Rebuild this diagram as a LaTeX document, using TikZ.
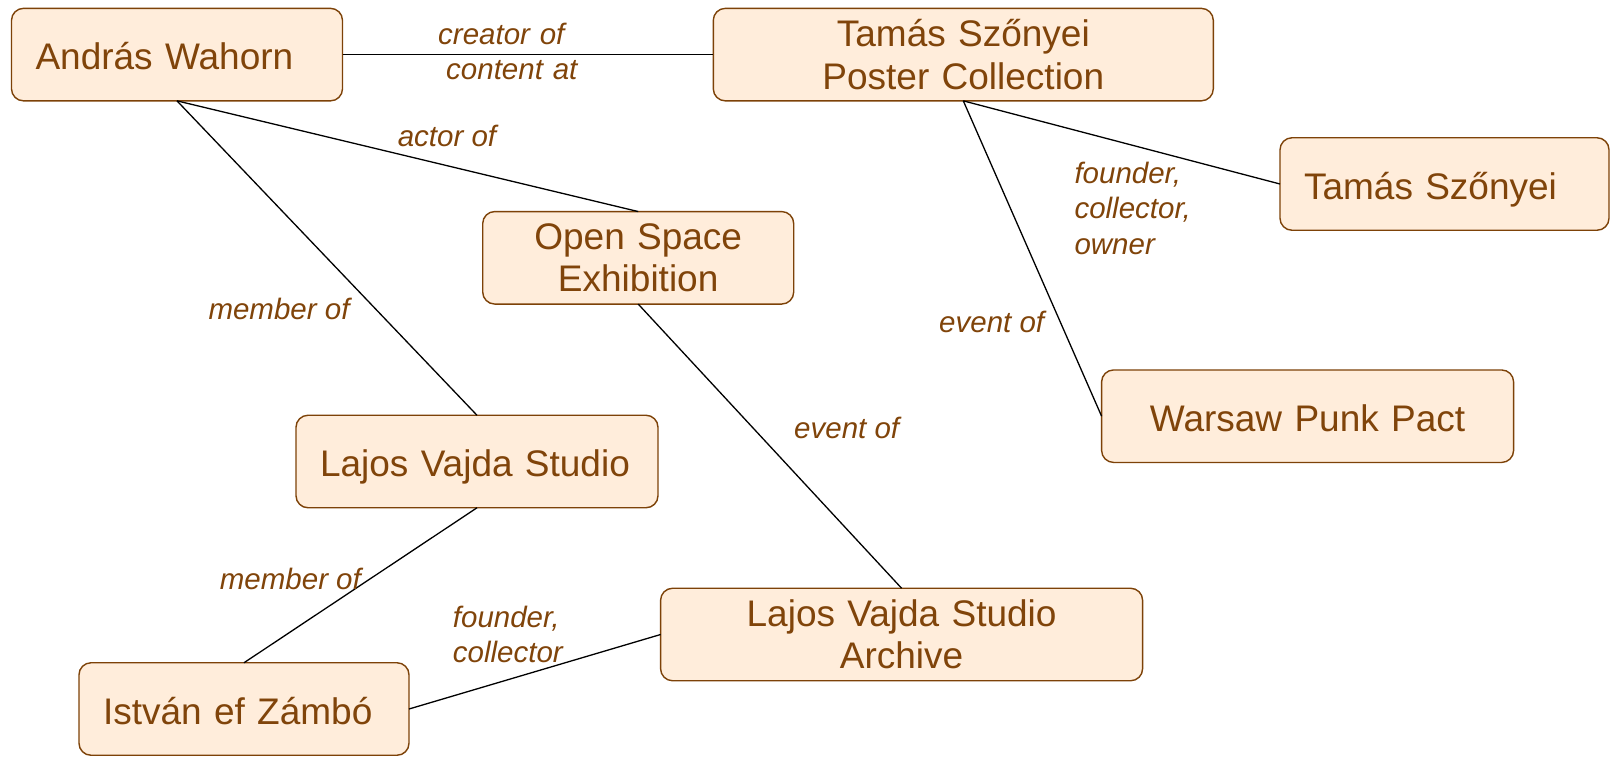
\documentclass[tikz,border=0pt]{standalone}
\usepackage{fontspec}
\setmainfont{Liberation Sans}
\definecolor{boxfill}{RGB}{255,237,219}
\definecolor{brownline}{RGB}{125,66,8}
\definecolor{browntext}{RGB}{128,68,10}
\tikzset{
  concept/.style={draw=brownline, fill=boxfill, line width=1.4pt, rounded corners=12pt,
    inner xsep=24pt, inner ysep=0pt, outer sep=0pt, text=browntext,
    font=\fontsize{37}{42.5}\selectfont, minimum height=92.5pt},
  oneline/.style={text height=30pt, text depth=0pt},
  rel/.style={text=browntext, font=\fontsize{29.5}{35.5}\selectfont\itshape,
    inner sep=0pt, anchor=base west, align=left},
  link/.style={draw=black, line width=1.3pt},
}
\begin{document}
\begin{tikzpicture}[x=1pt,y=-1pt]
\useasboundingbox (0,0) rectangle (1610,756);
% concepts
\node[concept, oneline, text width=283pt, align=left] (wah) at (177,54.6) {András Wahorn};
\node[concept, text width=452pt, align=center] (pst) at (963.3,54.6) {Tamás Szőnyei\\Poster Collection};
\node[concept, oneline, text width=281pt, align=left] (tam) at (1444.5,184) {Tamás Szőnyei};
\node[concept, text width=263pt, align=center] (ose) at (638.2,257.8) {Open Space\\Exhibition};
\node[concept, oneline, text width=364pt, align=center] (wpp) at (1307.6,416.2) {Warsaw Punk Pact};
\node[concept, oneline, text width=314pt, align=left] (lvs) at (477,461.5) {Lajos Vajda Studio};
\node[concept, text width=434pt, align=center] (lva) at (901.6,634.5) {Lajos Vajda Studio\\Archive};
\node[concept, oneline, text width=282pt, align=left] (ist) at (244,709) {István ef Zámbó};
% connectors
\draw[link] (wah.east) -- (pst.west);
\draw[link] (wah.south) -- (ose.north);
\draw[link] (wah.south) -- (lvs.north);
\draw[link] (ose.south) -- (lva.north);
\draw[link] (lvs.south) -- (ist.north);
\draw[link] (ist.east) -- (lva.west);
\draw[link] (pst.south) -- (tam.west);
\draw[link] (pst.south) -- (wpp.west);
% relation labels
\node[rel, text width=150pt] (lcr) at (438,44) {creator of\\\hspace*{8pt}content at};
\node[rel] (lact) at (397.6,146.7) {actor of};
\node[rel] (lmem1) at (208.3,319.3) {member of};
\node[rel, text width=150pt] (lfco) at (1074.3,183) {founder,\\collector,\\owner};
\node[rel] (lev1) at (939,332) {event of};
\node[rel] (lev2) at (794,438) {event of};
\node[rel] (lmem2) at (219.7,589) {member of};
\node[rel, text width=150pt] (lfc2) at (452.7,627) {founder,\\collector};
\end{tikzpicture}
\end{document}
